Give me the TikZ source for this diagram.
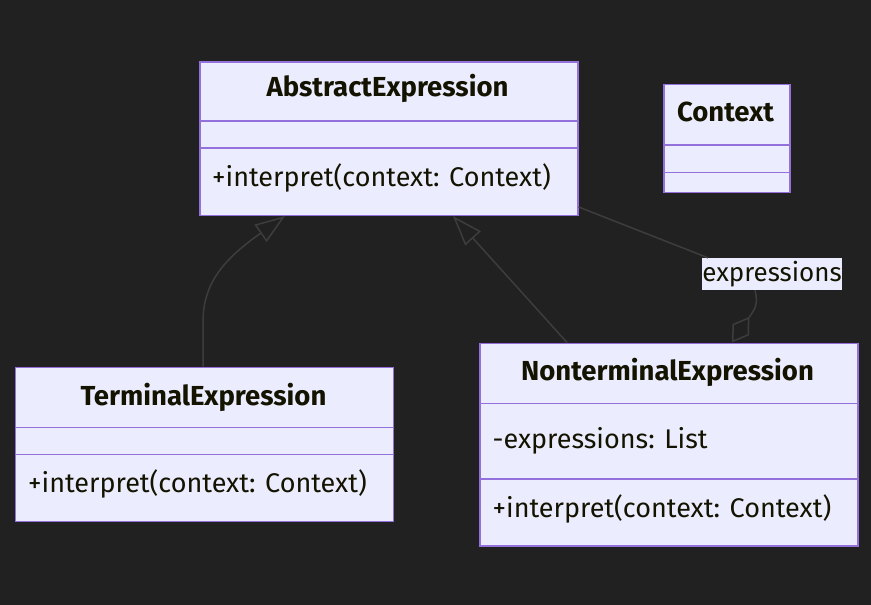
\documentclass[tikz,border=0pt]{standalone}
\usepackage{fontspec}
\setmainfont{Fira Sans}
\usetikzlibrary{arrows.meta}
\definecolor{bg}{HTML}{212121}
\definecolor{boxfill}{HTML}{ECECFF}
\definecolor{boxline}{HTML}{9370DB}
\definecolor{edge}{HTML}{3D3D3D}
\definecolor{txt}{HTML}{131300}
\tikzset{
  classbox/.style={draw=boxline, fill=boxfill, line width=1.6pt, inner sep=0pt, anchor=north west},
  divider/.style={draw=boxline, line width=1.3pt},
  title/.style={font=\fontsize{27.5}{32}\selectfont\bfseries, text=txt, inner sep=0pt, anchor=base},
  member/.style={font=\fontsize{27}{32}\selectfont, text=txt, inner sep=0pt, anchor=base west},
  edgeline/.style={draw=edge, line width=1.5pt},
  inherit/.style={edgeline, -{Triangle[open, length=30pt, width=21pt]}},
  aggreg/.style={edgeline, -{Diamond[open, length=31pt, width=20pt]}},
  lbl/.style={fill=boxfill, text=txt, inner sep=0pt, minimum width=140pt, minimum height=32pt, font=\fontsize{26}{30}\selectfont},
}
\begin{document}
\begin{tikzpicture}[x=1pt,y=-1pt]
\useasboundingbox (0,0) rectangle (871,605);
\fill[bg] (0,0) rectangle (871,605);

% AbstractExpression
\node[classbox, minimum width=378pt, minimum height=153.5pt] (abs) at (199,61) {};
\draw[divider] (abs.west |- 0,121) -- (abs.east |- 0,121);
\draw[divider] (abs.west |- 0,148) -- (abs.east |- 0,148);
\node[title] (absT) at (387.5,96.7) {AbstractExpression};
\node[member] (absM) at (212,186) {+interpret(context: Context)};

% Context
\node[classbox, minimum width=126pt, minimum height=108pt] (ctx) at (663,83.5) {};
\draw[divider] (ctx.west |- 0,145) -- (ctx.east |- 0,145);
\draw[divider] (ctx.west |- 0,172.3) -- (ctx.east |- 0,172.3);
\node[title] (ctxT) at (725.5,121.5) {Context};

% TerminalExpression
\node[classbox, minimum width=378pt, minimum height=154pt] (term) at (14.5,366.5) {};
\draw[divider] (term.west |- 0,427.3) -- (term.east |- 0,427.3);
\draw[divider] (term.west |- 0,454.3) -- (term.east |- 0,454.3);
\node[title] (termT) at (203.5,405) {TerminalExpression};
\node[member] (termM) at (28,492) {+interpret(context: Context)};

% NonterminalExpression
\node[classbox, minimum width=378pt, minimum height=202.5pt] (nt) at (479,342.5) {};
\draw[divider] (nt.west |- 0,403.3) -- (nt.east |- 0,403.3);
\draw[divider] (nt.west |- 0,479) -- (nt.east |- 0,479);
\node[title] (ntT) at (667.5,380) {NonterminalExpression};
\node[member] (ntA) at (492.5,448) {-expressions: List};
\node[member] (ntM) at (492.5,517) {+interpret(context: Context)};

% label
\node[lbl] (lab) at (772,274) {expressions};

% connectors
\draw[inherit] (term.north -| 203,0) -- (203,322) .. controls (203,283) and (224,259) .. (abs.south -| 285,0);
\draw[inherit] (nt.north -| 567,0) -- (abs.south -| 453,0);
\draw[edgeline] (abs.east |- 0,207) -- (lab.north -| 708,0);
\draw[aggreg] (lab.south -| 755,0) .. controls (758,302) and (756,308) .. (750,316) -- (nt.north -| 732,0);
\end{tikzpicture}
\end{document}
